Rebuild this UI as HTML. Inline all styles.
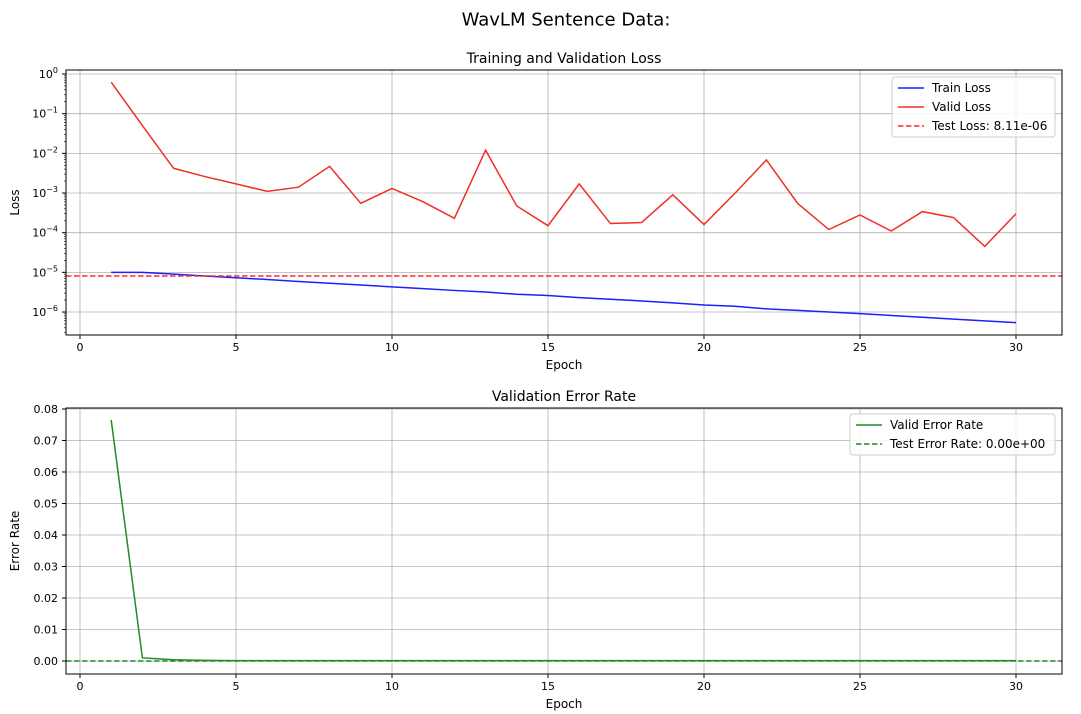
<!DOCTYPE html>
<html><head><meta charset="utf-8"><style>
body{margin:0;background:#fff;}
svg{display:block;font-family:"DejaVu Sans","Liberation Sans",sans-serif;}
</style></head><body>
<svg id="fig" width="1081" height="714" viewBox="0 0 1081 714">
<text x="566" y="20" font-size="18" text-anchor="middle" dy="0.3em">WavLM Sentence Data:</text>
</svg>
<script>
const epochs=[1,2,3,4,5,6,7,8,9,10,11,12,13,14,15,16,17,18,19,20,21,22,23,24,25,26,27,28,29,30];
const trainLoss=[1.0e-5,1.0e-5,9.0e-6,8.1e-6,7.3e-6,6.6e-6,5.9e-6,5.3e-6,4.8e-6,4.3e-6,3.9e-6,3.5e-6,3.2e-6,2.8e-6,2.6e-6,2.3e-6,2.1e-6,1.9e-6,1.7e-6,1.5e-6,1.4e-6,1.2e-6,1.1e-6,1.0e-6,9.1e-7,8.2e-7,7.4e-7,6.6e-7,6.0e-7,5.4e-7];
const validLoss=[0.62,0.05,0.0042,0.0026,0.0017,0.0011,0.0014,0.0047,0.00055,0.0013,0.0006,0.00023,0.012,0.00047,0.00015,0.0017,0.00017,0.00018,0.0009,0.00016,0.001,0.0068,0.00055,0.00012,0.00028,0.00011,0.00034,0.00024,0.000045,0.0003];
const testLoss=8.11e-6;
const validErr=[0.0765,0.001,0.0004,0.0002,0.0001,0.0001,0.0001,0.0001,0.0001,0.0001,0.0001,0.0001,0.0001,0.0001,0.0001,0.0001,0.0001,0.0001,0.0001,0.0001,0.0001,0.0001,0.0001,0.0001,0.0001,0.0001,0.0001,0.0001,0.0001,0.0001];
const testErr=0.0;
const xTicks=[0,5,10,15,20,25,30];
const logTicks=[0,-1,-2,-3,-4,-5,-6];
const errTicks=[0,0.01,0.02,0.03,0.04,0.05,0.06,0.07,0.08];

const NS="http://www.w3.org/2000/svg";
const svg=document.getElementById('fig');
function el(tag,attrs,parent){const e=document.createElementNS(NS,tag);for(const k in attrs)e.setAttribute(k,attrs[k]);(parent||svg).appendChild(e);return e;}
const X=v=>80+(v)*31.2;
const L=66,R=1062;
const Yt=v=>74-Math.log10(v)*39.67;
const T0=70,T1=335;
const Yb=v=>661-v*3150;
const B0=408,B1=674;

function grid(top,bot,yvals,yf){
  xTicks.forEach(t=>{const g=el('line',{x1:X(t),x2:X(t),y1:top,y2:bot,stroke:'#b0b0b0','stroke-width':0.8});
  });
  yvals.forEach(v=>{const g=el('line',{x1:L,x2:R,y1:yf(v),y2:yf(v),stroke:'#b0b0b0','stroke-width':0.8});
  });
}
function xaxis(bot){
  xTicks.forEach(t=>{el('line',{x1:X(t),x2:X(t),y1:bot,y2:bot+4,stroke:'#000'});
  const tx=el('text',{x:X(t),y:bot+16,'font-size':11,'text-anchor':'middle'});tx.textContent=t;
  });
  const lab=el('text',{x:564,y:bot+34,'font-size':12,'text-anchor':'middle'});lab.textContent='Epoch';
  
}
function poly(xs,ys,color,name){const p=el('polyline',{points:xs.map((x,i)=>X(x)+','+ys[i]).join(' '),fill:'none',stroke:color,'stroke-width':1.5});
}
function frame(top,bot,name){const r=el('rect',{x:L,y:top,width:R-L,height:bot-top,fill:'none',stroke:'#000','stroke-width':1});
}

let tt=el('text',{x:564,y:63,'font-size':14,'text-anchor':'middle'});tt.textContent='Training and Validation Loss';

grid(T0,T1,logTicks.map(e=>Math.pow(10,e)),Yt);
for(let e=-7;e<=0;e++)for(let m=2;m<=9;m++){const y=Yt(m*Math.pow(10,e));if(y>T0&&y<T1)el('line',{x1:L-2,x2:L,y1:y,y2:y,stroke:'#000','stroke-width':0.6});}
logTicks.forEach(e=>{const y=Yt(Math.pow(10,e));el('line',{x1:L-4,x2:L,y1:y,y2:y,stroke:'#000'});
  const tx=el('text',{x:L-8,y:y+4,'font-size':11,'text-anchor':'end'});
  
  const a=el('tspan',{},tx);a.textContent='10';const b=el('tspan',{dy:-5,'font-size':8},tx);b.textContent=(e<0?'−':'')+Math.abs(e);});
let yl=el('text',{x:0,y:0,'font-size':12,'text-anchor':'middle',transform:'translate(19,'+((T0+T1)/2)+') rotate(-90)'});yl.textContent='Loss';

xaxis(T1);
poly(epochs,trainLoss.map(Yt),'#1f1fff','train-loss-line');
poly(epochs,validLoss.map(Yt),'#f03028','valid-loss-line');
let tl=el('line',{x1:L,x2:R,y1:Yt(testLoss),y2:Yt(testLoss),stroke:'#ff2a2a','stroke-width':1.5,'stroke-dasharray':'5.5,2.5'});

frame(T0,T1,'loss-plot-area');
let lg=el('rect',{x:892,y:77,width:163,height:60,fill:'#fff','fill-opacity':0.85,stroke:'#ccc',rx:3});

[['Train Loss','#1f1fff',null],['Valid Loss','#f03028',null],['Test Loss: 8.11e-06','#ff2a2a','5.5,2.5']].forEach((d,i)=>{
  const y=88+i*19;const a={x1:898,x2:924,y1:y,y2:y,stroke:d[1],'stroke-width':1.5};if(d[2])a['stroke-dasharray']=d[2];el('line',a);
  const t=el('text',{x:932,y:y+4,'font-size':12});t.textContent=d[0];
  });

let bt=el('text',{x:564,y:401,'font-size':14,'text-anchor':'middle'});bt.textContent='Validation Error Rate';

grid(B0,B1,errTicks,Yb);
errTicks.forEach(v=>{const y=Yb(v);el('line',{x1:L-4,x2:L,y1:y,y2:y,stroke:'#000'});
  const tx=el('text',{x:L-8,y:y+4,'font-size':11,'text-anchor':'end'});tx.textContent=v.toFixed(2);
  });
let yl2=el('text',{x:0,y:0,'font-size':12,'text-anchor':'middle',transform:'translate(19,'+((B0+B1)/2)+') rotate(-90)'});yl2.textContent='Error Rate';

xaxis(B1);
poly(epochs,validErr.map(Yb),'#228b22','valid-error-line');
let te=el('line',{x1:L,x2:R,y1:Yb(testErr),y2:Yb(testErr),stroke:'#228b22','stroke-width':1.5,'stroke-dasharray':'5.5,2.5'});

frame(B0,B1,'error-plot-area');
let lg2=el('rect',{x:850,y:414,width:205,height:41,fill:'#fff','fill-opacity':0.85,stroke:'#ccc',rx:3});

[['Valid Error Rate',null],['Test Error Rate: 0.00e+00','5.5,2.5']].forEach((d,i)=>{
  const y=425+i*19;const a={x1:856,x2:882,y1:y,y2:y,stroke:'#228b22','stroke-width':1.5};if(d[1])a['stroke-dasharray']=d[1];el('line',a);
  const t=el('text',{x:890,y:y+4,'font-size':12});t.textContent=d[0];
  });
</script>
</body></html>
